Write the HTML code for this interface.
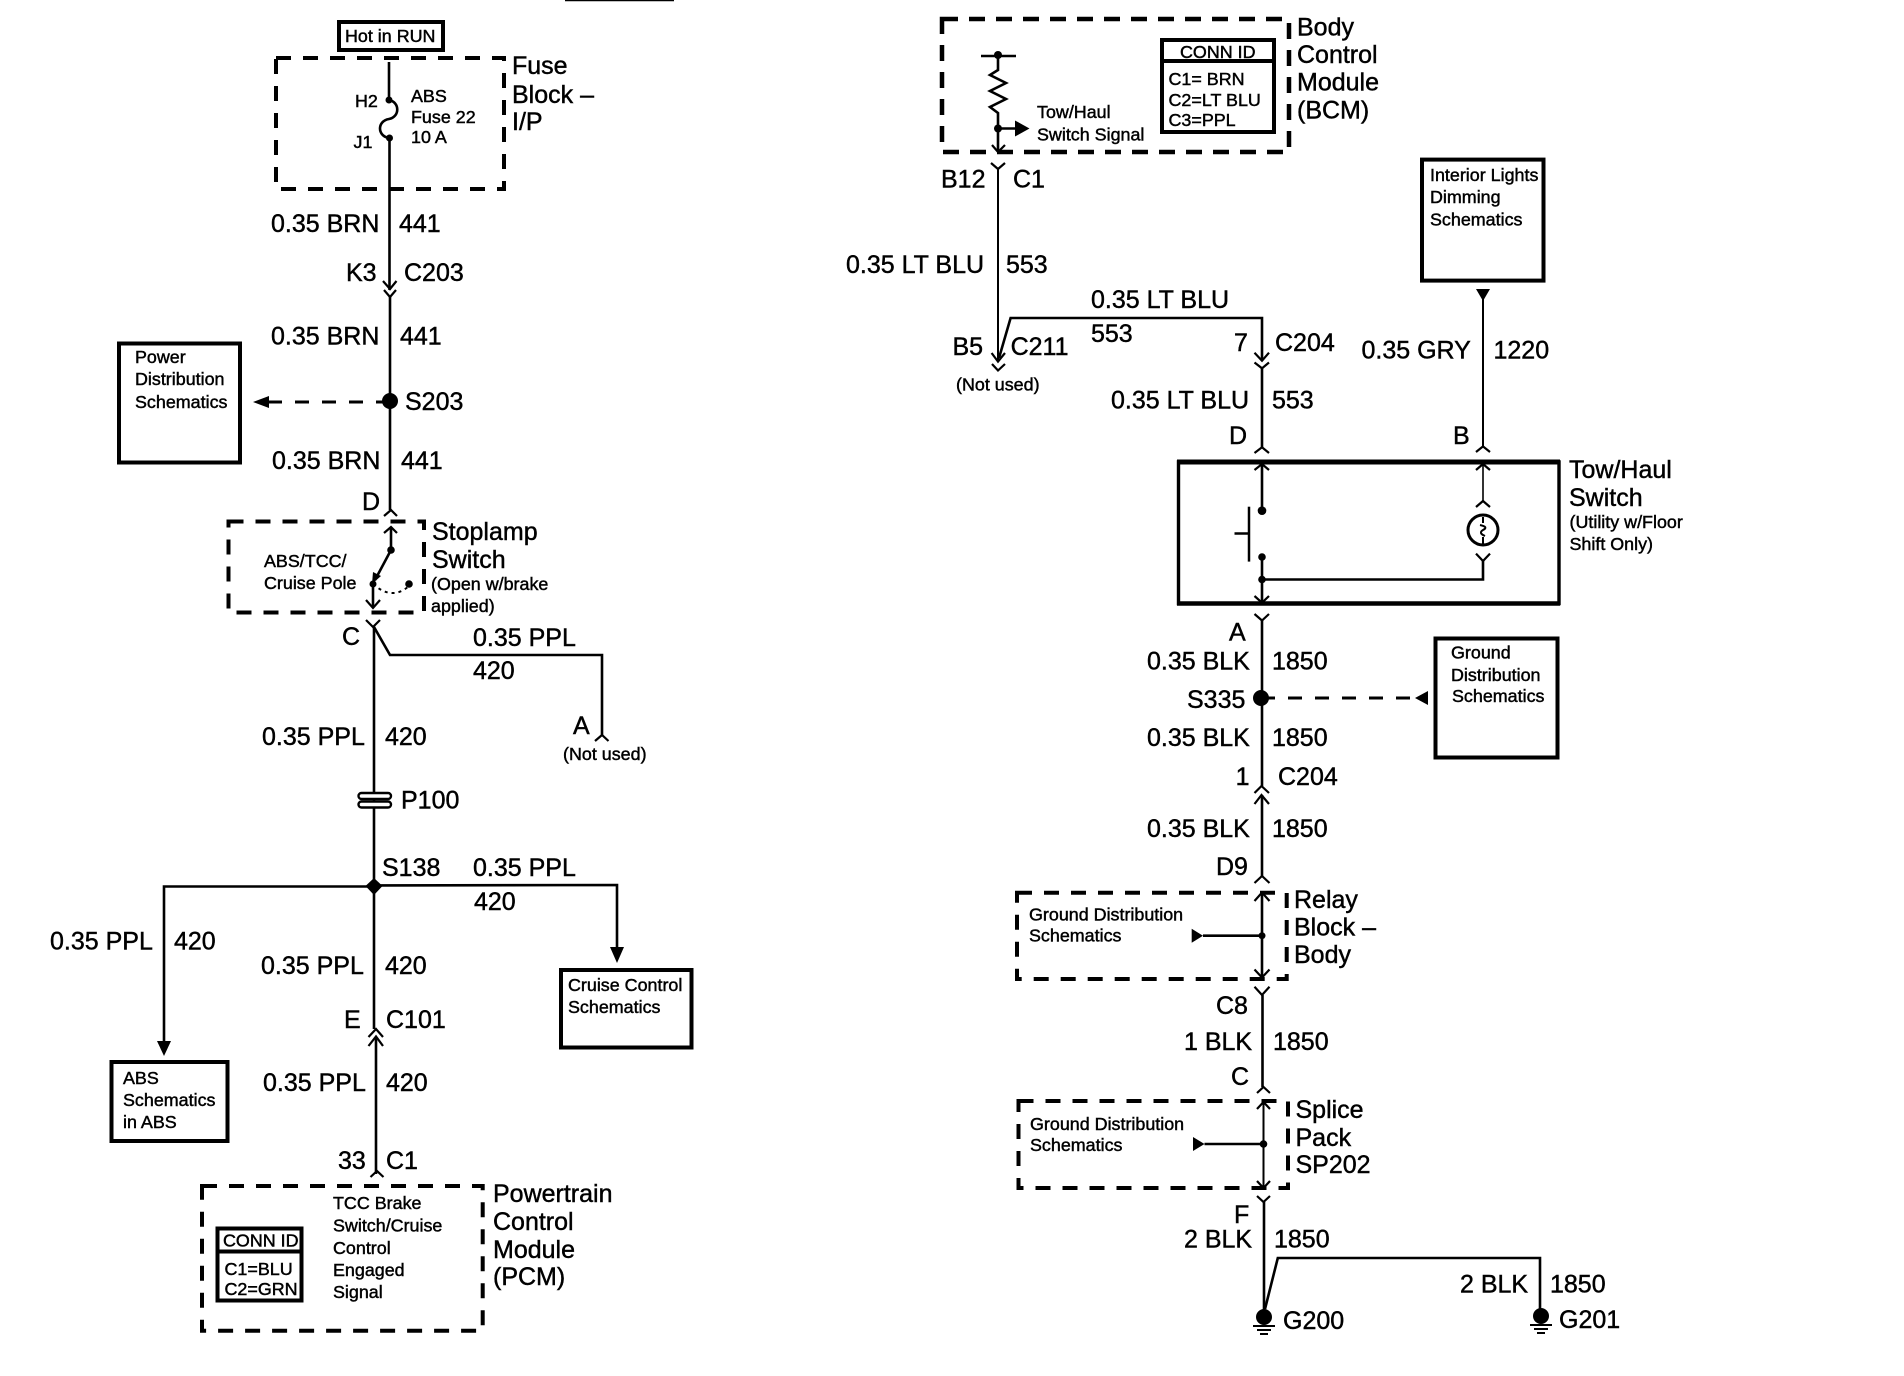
<!DOCTYPE html>
<html><head><meta charset="utf-8"><style>
html,body{margin:0;padding:0;background:#fff}
svg{display:block}
text{font-family:"Liberation Sans",Arial,sans-serif;fill:#000;stroke:#000;stroke-width:.45}
.t{font-size:25px}
.s{font-size:17.9px}
.w{stroke:#000;stroke-width:2.6;fill:none}
.n{stroke:#000;stroke-width:2;fill:none}
.c{stroke:#000;stroke-width:2.2;fill:none}
.b{stroke:#000;stroke-width:4;fill:none}
.d{stroke:#000;stroke-width:4;fill:none;stroke-dasharray:15 12}
.g{stroke:#000;stroke-width:3;fill:none;stroke-dasharray:14 13}
</style></head><body>
<svg width="1904" height="1376" viewBox="0 0 1904 1376" xmlns="http://www.w3.org/2000/svg">
<rect width="1904" height="1376" fill="#fff"/>
<line x1="565" y1="0.5" x2="674" y2="0.5" stroke="#000" stroke-width="1.5"/>

<!-- LEFT COLUMN -->
<rect x="339" y="22" width="104" height="28" class="b"/>
<text x="345" y="42" class="s">Hot in RUN</text>
<rect x="276" y="58" width="228" height="131" class="d"/>
<line x1="389" y1="62" x2="389" y2="99" class="w"/>
<path d="M389 100C400 102 400 117 389 119C377 121 377 136 389 138" class="w"/>
<line x1="389.5" y1="138" x2="389.5" y2="290" class="w"/>
<line x1="390" y1="296" x2="390" y2="510" class="w"/>
<circle cx="389" cy="100" r="3.5"/><circle cx="389.5" cy="138" r="3.5"/>
<text x="355" y="107" class="s">H2</text><text x="353.5" y="148" class="s">J1</text>
<text x="411" y="102" class="s">ABS</text><text x="411" y="123" class="s">Fuse 22</text><text x="411" y="143" class="s">10 A</text>
<text x="512" y="74" class="t">Fuse</text><text x="512" y="103" class="t">Block –</text><text x="512" y="130" class="t">I/P</text>
<text x="271" y="232" class="t">0.35 BRN</text><text x="399" y="232" class="t">441</text>
<text x="346" y="281" class="t">K3</text><text x="404" y="281" class="t">C203</text>
<polyline points="383,281 390,289 396.5,281" class="c"/><polyline points="384,290 390,297 396,290" class="c"/>
<text x="271" y="344.5" class="t">0.35 BRN</text><text x="400" y="344.5" class="t">441</text>
<rect x="119" y="343.5" width="121" height="119" class="b"/>
<text x="135" y="363" class="s">Power</text><text x="135" y="385" class="s">Distribution</text><text x="135" y="408" class="s">Schematics</text>
<line x1="390" y1="402" x2="269" y2="402" class="g"/>
<polygon points="253,402 269,396 269,408"/>
<circle cx="390" cy="401" r="8"/>
<text x="405" y="410" class="t">S203</text>
<text x="272" y="469" class="t">0.35 BRN</text><text x="401" y="469" class="t">441</text>
<polyline points="384,516 391,510 397,516" class="c"/>
<text x="362" y="510" class="t">D</text>
<rect x="228.5" y="521.5" width="195.5" height="91" class="d"/>
<polyline points="384,533 391,527 397,533" class="c"/>
<line x1="391" y1="527" x2="391" y2="550" class="w"/>
<circle cx="391" cy="550" r="3.8"/>
<line x1="391" y1="550" x2="375" y2="580" class="w"/>
<polygon points="372,584 373,572 381,576"/>
<circle cx="373" cy="584" r="3.5"/><circle cx="409" cy="584" r="3.8"/>
<path d="M373 584Q392 601 409 586" stroke="#000" stroke-width="2" fill="none" stroke-dasharray="3 4"/>
<line x1="373" y1="584" x2="373" y2="608" class="w"/>
<polyline points="366,600 373,608 380,600" class="c"/>
<text x="432" y="540" class="t">Stoplamp</text><text x="432" y="568" class="t">Switch</text>
<text x="431" y="590" class="s">(Open w/brake</text><text x="431" y="612" class="s">applied)</text>
<text x="264" y="567" class="s">ABS/TCC/</text><text x="264" y="589" class="s">Cruise Pole</text>
<text x="342" y="645" class="t">C</text>
<polyline points="366,620 373,627 380,620" class="c"/>
<line x1="374" y1="627" x2="374" y2="1029" class="w"/>
<polyline points="374,627 390,655 602,655 602,736" class="w"/>
<text x="473" y="646" class="t">0.35 PPL</text><text x="473" y="679" class="t">420</text>
<text x="573" y="734" class="t">A</text>
<polyline points="595,741 602,735 608.5,741" class="c"/>
<text x="563" y="760" class="s">(Not used)</text>
<text x="262" y="745" class="t">0.35 PPL</text><text x="385" y="745" class="t">420</text>
<rect x="358.5" y="793" width="32.5" height="6" rx="3" fill="#fff" stroke="#000" stroke-width="2.4"/>
<rect x="358.5" y="801.5" width="32.5" height="6" rx="3" fill="#fff" stroke="#000" stroke-width="2.4"/>
<text x="401" y="808.5" class="t">P100</text>
<polygon points="374,878 382.5,886 374,895 365.5,886"/>
<text x="382" y="876" class="t">S138</text>
<text x="473" y="876" class="t">0.35 PPL</text><text x="474" y="910" class="t">420</text>
<polyline points="374,885.5 617,885 617,948" class="w"/>
<polygon points="610,947 624,947 617,963"/>
<polyline points="374,886.5 164,886.5 164,1042" class="w"/>
<polygon points="157,1041 171,1041 164,1056"/>
<text x="50" y="949.5" class="t">0.35 PPL</text><text x="174" y="949.5" class="t">420</text>
<text x="261" y="974" class="t">0.35 PPL</text><text x="385" y="974" class="t">420</text>
<text x="344" y="1028" class="t">E</text><text x="386" y="1028" class="t">C101</text>
<polyline points="368.5,1037 376,1029 383,1037" class="c"/><polyline points="368.5,1046 376,1036.5 383,1046" class="c"/>
<line x1="376" y1="1037" x2="376" y2="1174" class="w"/>
<polyline points="370.5,1177 377,1171 383.5,1177" class="c"/>
<text x="263" y="1091" class="t">0.35 PPL</text><text x="386" y="1091" class="t">420</text>
<text x="338" y="1169" class="t">33</text><text x="386" y="1169" class="t">C1</text>
<rect x="111.5" y="1062" width="116" height="79" class="b"/>
<text x="123" y="1084" class="s">ABS</text><text x="123" y="1106" class="s">Schematics</text><text x="123" y="1128" class="s">in ABS</text>
<rect x="561" y="970" width="130.5" height="77.5" class="b"/>
<text x="568" y="991" class="s">Cruise Control</text><text x="568" y="1013" class="s">Schematics</text>
<rect x="202" y="1186" width="280.7" height="144.7" class="d"/>
<rect x="217.5" y="1228.5" width="84" height="72" class="b"/>
<line x1="217.5" y1="1251.5" x2="301.5" y2="1251.5" class="b"/>
<text x="223" y="1246.7" class="s">CONN ID</text><text x="224.5" y="1275" class="s">C1=BLU</text><text x="224.5" y="1295" class="s">C2=GRN</text>
<text x="333" y="1209" class="s">TCC Brake</text><text x="333" y="1231.7" class="s">Switch/Cruise</text><text x="333" y="1254" class="s">Control</text><text x="333" y="1276" class="s">Engaged</text><text x="333" y="1298" class="s">Signal</text>
<text x="493" y="1202" class="t">Powertrain</text><text x="493" y="1230" class="t">Control</text><text x="493" y="1258" class="t">Module</text><text x="493" y="1285" class="t">(PCM)</text>

<!-- RIGHT COLUMN -->
<rect x="942" y="19" width="347" height="133" stroke="#000" stroke-width="4.5" fill="none" stroke-dasharray="16 11"/>
<line x1="981" y1="56" x2="1016" y2="56" class="w"/>
<circle cx="998" cy="55" r="4"/>
<polyline points="998,55 998,70 990,75 1006,83 990,91 1006,99 990,107 998,113 998,152" class="w"/>
<circle cx="998" cy="128.5" r="4"/>
<line x1="998" y1="128.5" x2="1016" y2="128.5" class="w"/>
<polygon points="1029.5,128.5 1015,120.5 1015,136.5"/>
<polyline points="992,145 998,152 1005,145" class="c"/>
<text x="1037" y="118" class="s">Tow/Haul</text><text x="1037" y="140.6" class="s">Switch Signal</text>
<rect x="1162" y="40" width="112" height="92" class="b"/>
<line x1="1162" y1="61" x2="1274" y2="61" class="b"/>
<text x="1180" y="58" class="s">CONN ID</text><text x="1168.5" y="85" class="s">C1= BRN</text><text x="1168.5" y="106" class="s">C2=LT BLU</text><text x="1168.5" y="126" class="s">C3=PPL</text>
<text x="1297" y="35.6" class="t">Body</text><text x="1297" y="63" class="t">Control</text><text x="1297" y="90.5" class="t">Module</text><text x="1297" y="118.6" class="t">(BCM)</text>
<polyline points="991,163 998,169 1005,163" class="c"/>
<line x1="998" y1="169" x2="998" y2="360" class="n"/>
<text x="941" y="187.5" class="t">B12</text><text x="1013" y="187.5" class="t">C1</text>
<text x="846" y="273" class="t">0.35 LT BLU</text><text x="1006" y="273" class="t">553</text>
<polyline points="999,358 1010.6,318 1262,318 1262,360" class="w"/>
<polyline points="991.6,353 998,361.6 1005,353" class="c"/><polyline points="992,364 998,370.5 1005,364" class="c"/>
<text x="952.5" y="355" class="t">B5</text><text x="1010.6" y="355" class="t">C211</text>
<text x="956" y="390.6" class="s">(Not used)</text>
<text x="1091" y="308" class="t">0.35 LT BLU</text><text x="1091" y="342" class="t">553</text>
<text x="1234" y="351" class="t">7</text><text x="1275" y="351" class="t">C204</text>
<polyline points="1254.5,352.7 1262,360.7 1269,352.7" class="c"/><polyline points="1254.5,362.5 1262,368.3 1269,362.5" class="c"/>
<line x1="1262" y1="368" x2="1262" y2="448" class="w"/>
<text x="1111" y="408.5" class="t">0.35 LT BLU</text><text x="1272" y="408.5" class="t">553</text>
<text x="1229" y="444" class="t">D</text>
<polyline points="1254.5,453 1262,447.3 1269,453" class="c"/>
<text x="1453" y="444" class="t">B</text>
<polyline points="1476,452 1483,446.4 1490,452" class="c"/>
<line x1="1483" y1="298" x2="1483" y2="447" class="n"/>
<polygon points="1476,289 1490,289 1483,301"/>
<rect x="1422" y="159.6" width="121.5" height="121" class="b"/>
<text x="1430" y="181" class="s">Interior Lights</text><text x="1430" y="203" class="s">Dimming</text><text x="1430" y="225.5" class="s">Schematics</text>
<text x="1361.5" y="358.5" class="t">0.35 GRY</text><text x="1493.5" y="358.5" class="t">1220</text>
<path d="M1178.5 603.5V462H1559V603.5Z" stroke="#000" stroke-width="3.4" fill="none"/>
<line x1="1177" y1="462" x2="1560" y2="462" stroke="#000" stroke-width="5"/>
<line x1="1177" y1="603.5" x2="1560" y2="603.5" stroke="#000" stroke-width="4.5"/>
<polyline points="1254.5,470 1262,464 1269,470" class="c"/>
<line x1="1262" y1="464" x2="1262" y2="511" class="w"/>
<circle cx="1262" cy="510.7" r="4.3"/>
<line x1="1249" y1="506.7" x2="1249" y2="561.6" stroke="#000" stroke-width="2.5"/>
<line x1="1234.5" y1="533.5" x2="1249" y2="533.5" stroke="#000" stroke-width="2.5"/>
<circle cx="1262" cy="557" r="3.8"/><circle cx="1262" cy="579.5" r="3.8"/>
<line x1="1262" y1="557" x2="1262" y2="603" class="w"/>
<polyline points="1254.5,596 1262,602.7 1269,596" class="c"/>
<polyline points="1262,579.5 1483,579.5 1483,560" class="w"/>
<polyline points="1476,553.6 1483,561 1490,553.6" class="c"/>
<circle cx="1483" cy="530" r="15" fill="none" stroke="#000" stroke-width="3"/>
<path d="M1483 517V523M1483 537V544M1480 525Q1489 527 1483 530Q1478 533 1485 536" stroke="#000" stroke-width="2" fill="none"/>
<polyline points="1476,507 1483,501 1490,507" class="c"/>
<polyline points="1476,470 1483,464 1490,470" class="c"/>
<line x1="1483" y1="464" x2="1483" y2="501" stroke="#000" stroke-width="1.6"/>
<text x="1569" y="478" class="t">Tow/Haul</text><text x="1569" y="506" class="t">Switch</text>
<text x="1569.5" y="528" class="s">(Utility w/Floor</text><text x="1569.5" y="550" class="s">Shift Only)</text>
<text x="1229" y="640.6" class="t">A</text>
<polyline points="1254.5,614 1262,620.5 1269,614" class="c"/>
<line x1="1262" y1="620" x2="1262" y2="786" class="w"/>
<text x="1147" y="669.6" class="t">0.35 BLK</text><text x="1272" y="669.6" class="t">1850</text>
<rect x="1435.5" y="638.5" width="122" height="119" class="b"/>
<text x="1451" y="658.5" class="s">Ground</text><text x="1451" y="681" class="s">Distribution</text><text x="1452" y="702" class="s">Schematics</text>
<circle cx="1261" cy="698" r="8"/>
<text x="1187" y="708" class="t">S335</text>
<line x1="1261" y1="698" x2="1418" y2="698" class="g"/>
<polygon points="1415,698 1428,691 1428,705"/>
<text x="1147" y="746" class="t">0.35 BLK</text><text x="1272" y="746" class="t">1850</text>
<text x="1235.6" y="785" class="t">1</text><text x="1278" y="785" class="t">C204</text>
<polyline points="1254.5,793 1261.5,786 1269,793" class="c"/><polyline points="1254.5,804 1261.5,795 1269,804" class="c"/>
<line x1="1262" y1="795" x2="1262" y2="877" class="w"/>
<text x="1147" y="837" class="t">0.35 BLK</text><text x="1272" y="837" class="t">1850</text>
<text x="1216" y="875" class="t">D9</text>
<polyline points="1254.5,883 1262,876 1269.5,883" class="c"/>
<rect x="1017" y="892.7" width="269.7" height="86.3" class="d"/>
<polyline points="1254.5,901 1262,892.5 1269.5,901" class="c"/>
<line x1="1262" y1="892.5" x2="1262" y2="977.5" class="w"/>
<polyline points="1254.5,969.5 1262,977.5 1269.5,969.5" class="c"/>
<circle cx="1262" cy="935.7" r="3.5"/>
<line x1="1203" y1="935.7" x2="1262" y2="935.7" class="w"/>
<polygon points="1203,935.7 1191.7,928.7 1191.7,942.7"/>
<text x="1029" y="920.7" class="s">Ground Distribution</text><text x="1029" y="941.7" class="s">Schematics</text>
<text x="1294" y="908" class="t">Relay</text><text x="1294" y="935.5" class="t">Block –</text><text x="1294" y="963" class="t">Body</text>
<polyline points="1254.5,986.7 1262,995 1269.5,986.7" class="c"/>
<line x1="1262.5" y1="995" x2="1262.5" y2="1087" class="w"/>
<text x="1216" y="1014" class="t">C8</text>
<text x="1184" y="1050" class="t">1 BLK</text><text x="1273" y="1050" class="t">1850</text>
<text x="1231" y="1085" class="t">C</text>
<polyline points="1257,1093 1263.5,1087 1270,1093" class="c"/>
<rect x="1018.5" y="1101" width="269.5" height="87" class="d"/>
<polyline points="1257,1109 1263.5,1102 1270,1109" class="c"/>
<line x1="1263.5" y1="1102" x2="1263.5" y2="1188" class="n"/>
<polyline points="1257,1181 1263.5,1188 1270,1181" class="c"/>
<circle cx="1263.5" cy="1144" r="3.8"/>
<line x1="1204.5" y1="1144" x2="1263.5" y2="1144" class="w"/>
<polygon points="1204.5,1144 1193,1137 1193,1151"/>
<text x="1030" y="1130" class="s">Ground Distribution</text><text x="1030" y="1151" class="s">Schematics</text>
<text x="1295.5" y="1118" class="t">Splice</text><text x="1295.5" y="1146" class="t">Pack</text><text x="1295.5" y="1173" class="t">SP202</text>
<polyline points="1257,1196 1263.5,1202 1270,1196" class="c"/>
<line x1="1264" y1="1202" x2="1264" y2="1316" class="w"/>
<text x="1234" y="1223" class="t">F</text>
<text x="1184" y="1247.5" class="t">2 BLK</text><text x="1274" y="1247.5" class="t">1850</text>
<polyline points="1265,1309 1277.8,1258 1540,1258 1540,1316" class="w"/>
<text x="1460" y="1292.5" class="t">2 BLK</text><text x="1550" y="1292.5" class="t">1850</text>
<circle cx="1264" cy="1317" r="8"/><circle cx="1541" cy="1316" r="8"/>
<path d="M1253 1326H1275M1257 1330H1271M1260 1334H1268" stroke="#000" stroke-width="2" fill="none"/>
<path d="M1530 1325H1552M1534 1329H1548M1537 1333H1545" stroke="#000" stroke-width="2" fill="none"/>
<text x="1283" y="1329" class="t">G200</text><text x="1559" y="1328" class="t">G201</text>
</svg>
</body></html>
